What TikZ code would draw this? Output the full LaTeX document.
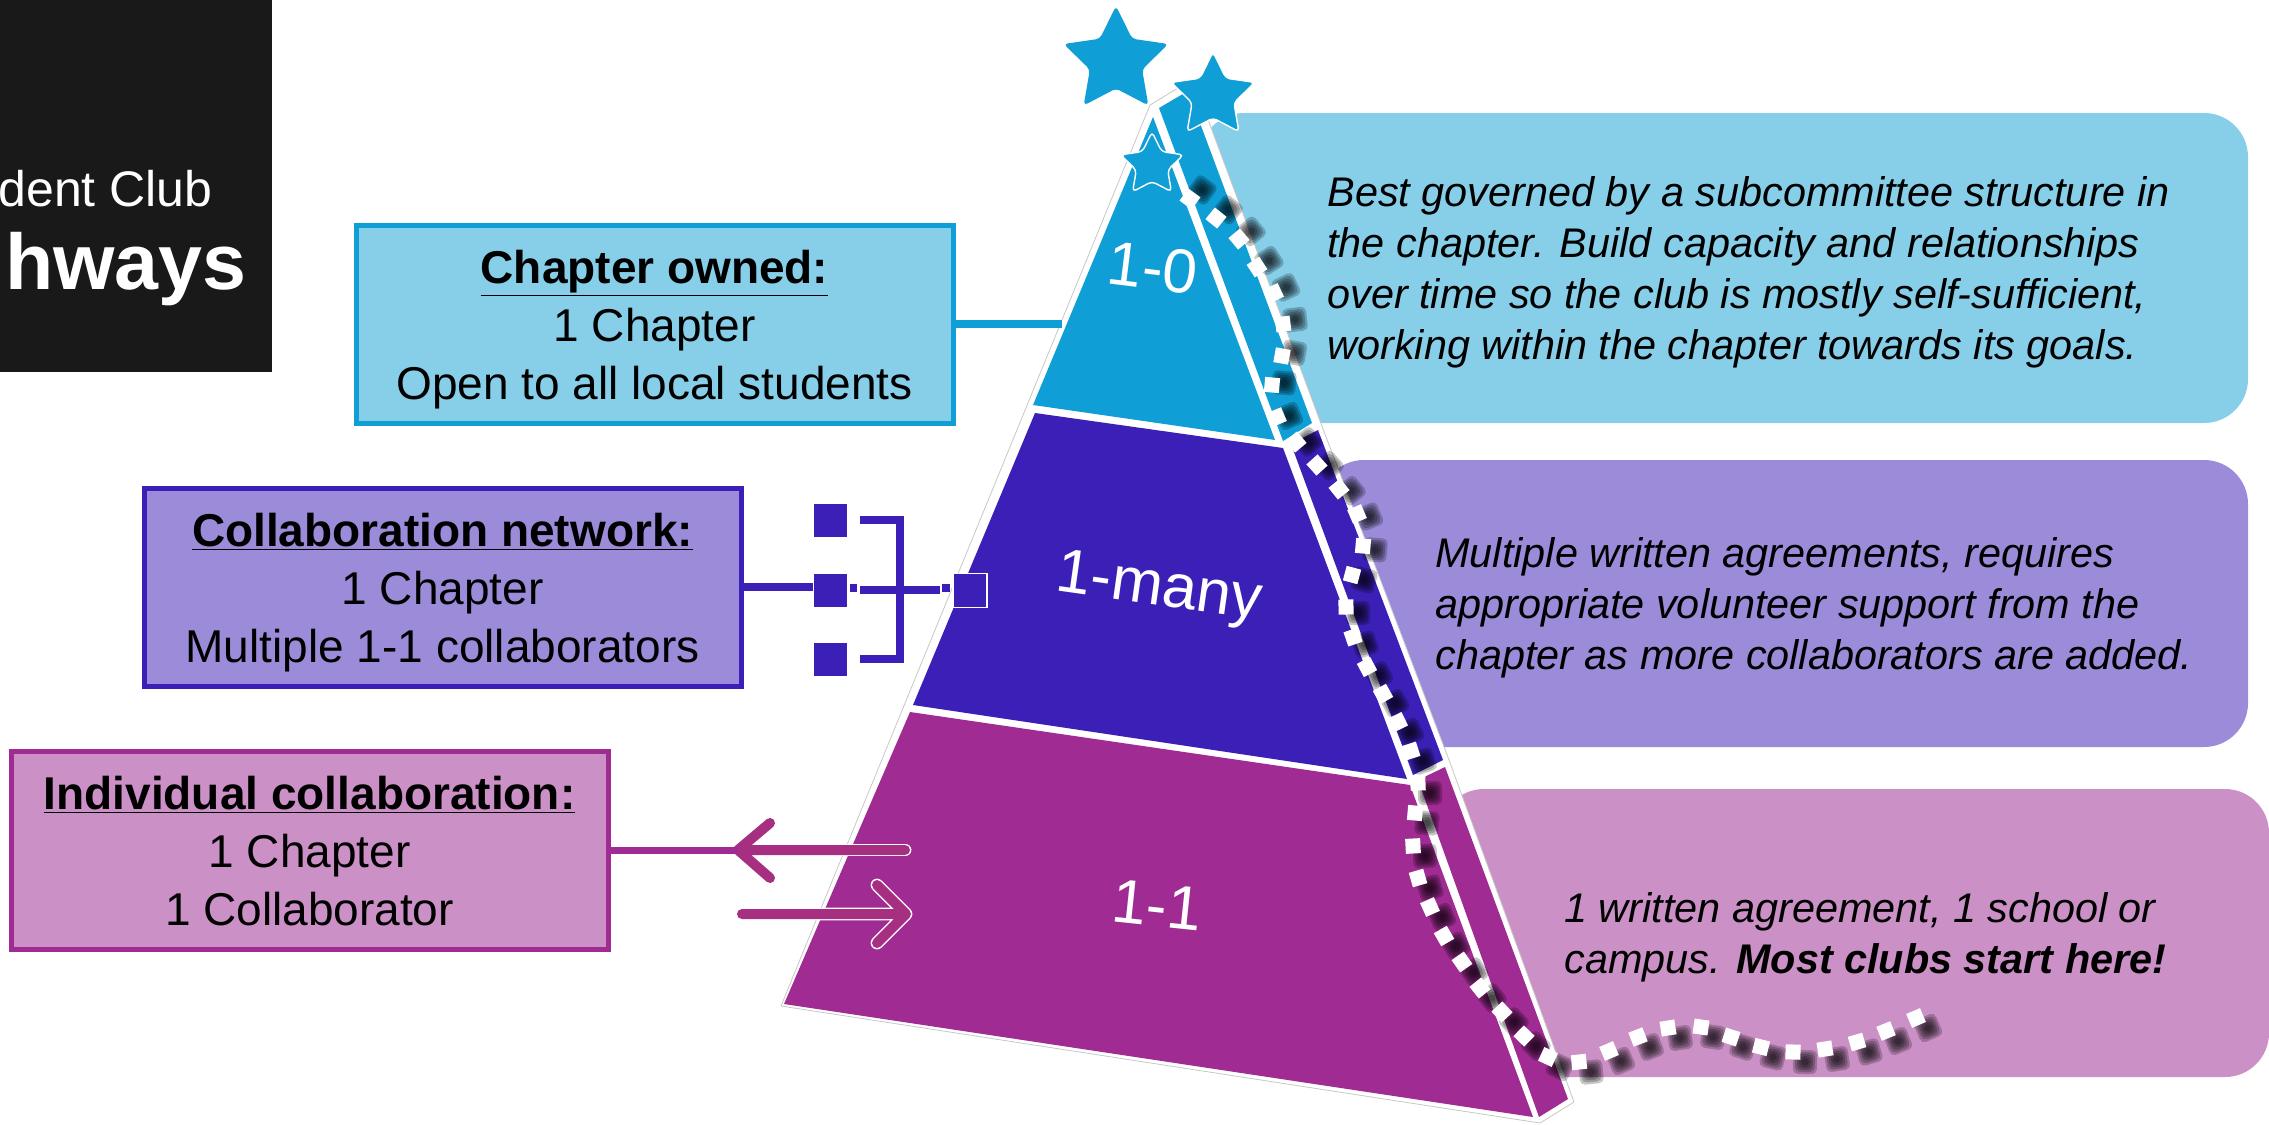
\documentclass[tikz,border=0pt]{standalone}
\usepackage{fontspec}
\setmainfont{Liberation Sans}
\usetikzlibrary{shapes.geometric}
\definecolor{cblue}{HTML}{0F9ED5}
\definecolor{cpurple}{HTML}{3B1FB7}
\definecolor{cmagenta}{HTML}{A02B93}
\definecolor{lblue}{HTML}{87CEE9}
\definecolor{lpurple}{HTML}{9B8BD9}
\definecolor{lmagenta}{HTML}{CB90C6}
\definecolor{arrowmag}{HTML}{A62F82}
\definecolor{titleblack}{HTML}{191919}
\newcommand{\boxhead}[1]{\rule{0pt}{22pt}\underline{\textbf{#1}}}
\tikzset{
  levelbox/.style={draw, line width=2.5pt, minimum width=298.5pt, minimum height=99pt, inner sep=0pt,
    align=center, text=black, font=\fontsize{23}{29}\selectfont},
  notetext/.style={anchor=west, align=left, text=black, inner sep=0pt, font=\fontsize{20.7}{25.5}\selectfont\itshape},
  levellabel/.style={text=white, inner sep=0pt, font=\fontsize{31}{34}\selectfont},
  link/.style={line width=4pt},
  netsq/.style={fill=cpurple, minimum size=16.5pt, inner sep=0pt},
  starbig/.style={star, star points=5, star point ratio=2.0, fill=cblue, inner sep=0pt, rounded corners=2pt},
  tierface/.style={line join=round},
}
\begin{document}
\begin{tikzpicture}[x=0.5pt, y=-0.5pt]
\useasboundingbox (0,0) rectangle (2269,1124);

% title block
\fill[titleblack] (0,0) rectangle (272,372);
\node[anchor=base east, text=white, inner sep=0pt, font=\fontsize{25}{30}\selectfont] (clubtitle) at (213,206) {dent Club};
\node[anchor=base east, text=white, inner sep=0pt, font=\fontsize{39.5}{42}\selectfont\bfseries] (pathtitle) at (247,289) {hways};

% notes on the right
\fill[lblue, rounded corners=22pt] (1200,113) rectangle (2248,423);
\fill[lpurple, rounded corners=22pt] (1320,460) rectangle (2248,747);
\fill[lmagenta, rounded corners=22pt] (1440,789) rectangle (2269,1077);
\node[notetext] (note0) at (1327,272) {Best governed by a subcommittee structure in\\the chapter. Build capacity and relationships\\over time so the club is mostly self-sufficient,\\working within the chapter towards its goals.};
\node[notetext] (notemany) at (1435,608) {Multiple written agreements, requires\\appropriate volunteer support from the\\chapter as more collaborators are added.};
\node[notetext] (note1) at (1564,937) {1 written agreement, 1 school or\\campus. \textbf{Most clubs start here!}};

% pyramid
\filldraw[white, draw=black!22, line width=0.4pt, line join=round] (1150,105) -- (1193,79) -- (1320,421) -- (1449,760) -- (1574,1102) -- (1540,1123) -- (781,1006) -- cycle;
\fill[cblue, tierface] (1153,117) -- (1033,405) -- (1275,440) -- cycle;
\fill[cblue, tierface] (1159,108) -- (1188,91) -- (1312,423) -- (1283,441) -- cycle;
\fill[cpurple, tierface] (1035,413) -- (1283,448) -- (1407,779) -- (913,705) -- cycle;
\fill[cpurple, tierface] (1291,444) -- (1318,430) -- (1443,760) -- (1413,775) -- cycle;
\fill[cmagenta, tierface] (910,712) -- (1410,785) -- (1533,1117) -- (784,1004) -- cycle;
\fill[cmagenta, tierface] (1418,780) -- (1445,767) -- (1568,1099) -- (1539,1117) -- cycle;
\node[levellabel, rotate=-7] (label0) at (1153,268) {1-0};
\node[levellabel, rotate=-8] (labelmany) at (1159,590) {1-many};
\node[levellabel, rotate=-6] (label1) at (1157,905) {1-1};

% boxes on the left
\node[levelbox, draw=cblue, fill=lblue] (chapterbox) at (654.5,324) {\boxhead{Chapter owned:}\\1 Chapter\\Open to all local students};
\node[levelbox, draw=cpurple, fill=lpurple] (networkbox) at (442.5,587) {\boxhead{Collaboration network:}\\1 Chapter\\Multiple 1-1 collaborators};
\node[levelbox, draw=cmagenta, fill=lmagenta] (individualbox) at (309.5,850) {\boxhead{Individual collaboration:}\\1 Chapter\\1 Collaborator\rule[-5pt]{0pt}{5pt}};

\coordinate (chapterend) at (1062,324);
\draw[link, cblue] (chapterbox.east) -- (chapterend);

% network symbol
\node[netsq] (sqtop) at (830.5,520.5) {};
\node[netsq] (sqmid) at (830.5,590) {};
\node[netsq] (sqlow) at (830.5,659.5) {};
\node[netsq, draw=white, line width=0.8pt, minimum size=17pt] (sqend) at (970,590.5) {};
\coordinate (netend) at (813,587);
\coordinate (stubA) at (850,588);
\coordinate (stubB) at (857,588);
\coordinate (stubC) at (942,588);
\coordinate (stubD) at (950,588);
\coordinate (barL) at (860,590);
\coordinate (barR) at (940,590);
\coordinate (brackA) at (860,520);
\coordinate (brackB) at (900,520);
\coordinate (brackC) at (900,659);
\coordinate (brackD) at (860,659);
\draw[link, cpurple] (networkbox.east) -- (netend);
\draw[link, cpurple] (stubA) -- (stubB);
\draw[link, cpurple] (stubC) -- (stubD);
\draw[link, cpurple] (barL) -- (barR);
\draw[link, cpurple, line join=miter] (brackA) -- (brackB) -- (brackC) -- (brackD);

% two way arrows
\coordinate (backtip) at (738,850);
\coordinate (backtail) at (905,850);
\coordinate (backup) at (770,823);
\coordinate (backlow) at (770,878);
\coordinate (fwdtail) at (742,914);
\coordinate (fwdtip) at (906,914);
\coordinate (fwdup) at (877,885);
\coordinate (fwdlow) at (877,943);
\draw[white, line width=6.4pt, line cap=round, line join=round] (backtail) -- (backtip);
\draw[white, line width=6.4pt, line cap=round, line join=round] (fwdtail) -- (fwdtip) (fwdup) -- (fwdtip) -- (fwdlow);
\draw[arrowmag, line width=5pt, line cap=round, line join=round] (backtail) -- (backtip) (backup) -- (backtip) -- (backlow);
\draw[arrowmag, line width=5pt, line cap=round, line join=round] (fwdtail) -- (fwdtip) (fwdup) -- (fwdtip) -- (fwdlow);
\draw[cmagenta, line width=3.5pt] (individualbox.east) -- (backtip);

% stars
\node[starbig, minimum size=55pt] (starA) at (1116,61) {};
\node[starbig, minimum size=44pt, draw=white, line width=0.7pt] (starB) at (1213,96) {};
\node[starbig, minimum size=33pt, draw=white, line width=0.7pt] (starC) at (1152,165) {};

% dotted trail
\def\trail{1190/199/-36,1216/218/-39,1239/239/-50,1257/267/-57,1274/293/-65,1283/324/-83,1282/356/80,1272/385/85,1277/417/-67,1296/442/-50,1317/465/-48,1339/489/-51,1357/514/-67,1363/546/85,1352/575/75,1346/607/-89,1353/637/-71,1367/667/-62,1383/694/-61,1398/722/-64,1411/751/-72,1418/783/-88,1415/813/85,1413/846/-87,1418/878/-74,1430/907/-66,1444/936/-60,1462/962/-55,1480/988/-51,1502/1012/-47,1524/1036/-44,1548/1057/-25,1579/1062/6,1609/1051/23,1638/1037/21,1668/1028/9,1701/1027/-8,1731/1037/-18,1761/1047/-14,1793/1052/-2,1825/1049/9,1857/1042/16,1886/1031/22,1916/1018/23}
\foreach \px/\py/\ang in \trail {
  \pgfmathsetmacro{\offy}{min(10,-9+(\py-200)/27)}
  \foreach \sz in {12,10,8,6,4}
    \fill[black, opacity=0.22, rounded corners=2.5pt, shift={(\px+12,\py+\offy)}, rotate=\ang] (-\sz,-\sz) rectangle (\sz,\sz);
}
\foreach \px/\py/\ang in \trail
  \fill[white, shift={(\px,\py)}, rotate=\ang] (-7.5,-7.5) rectangle (7.5,7.5);
\end{tikzpicture}
\end{document}
